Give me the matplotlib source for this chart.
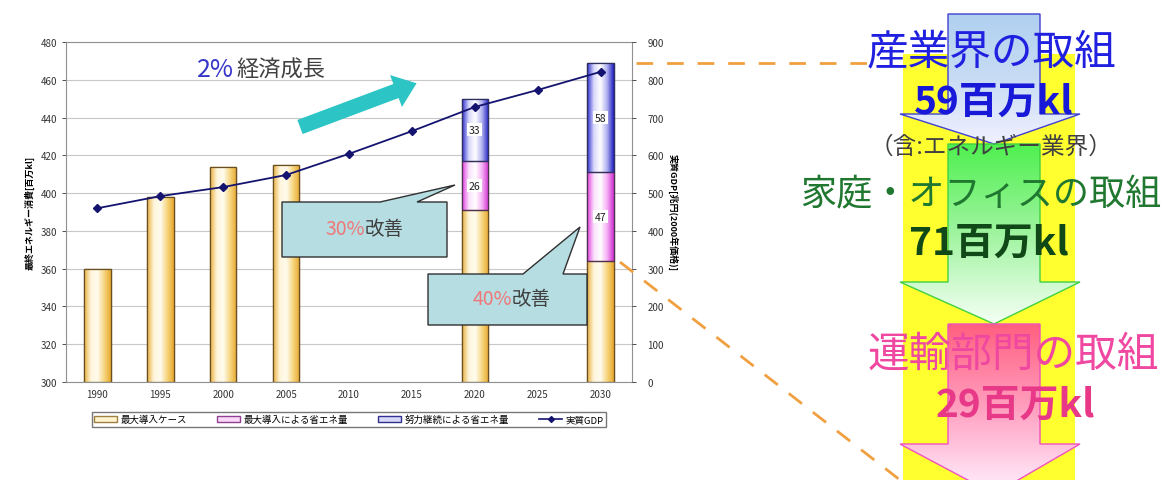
import matplotlib
matplotlib.use('Agg')
import numpy as np
import matplotlib.pyplot as plt
import matplotlib.patches as mpatches
from matplotlib.colors import LinearSegmentedColormap

plt.rcParams['font.family'] = ['Noto Sans CJK JP', 'DejaVu Sans']

# data
years = ['1990', '1995', '2000', '2005', '2010', '2015', '2020', '2025', '2030']
base_case = [360, 398, 414, 415, np.nan, np.nan, 391, np.nan, 364]      # 最大導入ケース
max_saving = [np.nan, np.nan, np.nan, np.nan, np.nan, np.nan, 26, np.nan, 47]  # 最大導入による省エネ量
effort_saving = [np.nan, np.nan, np.nan, np.nan, np.nan, np.nan, 33, np.nan, 58]  # 努力継続による省エネ量
gdp = [460, 492, 516, 548, 604, 664, 728, 773, 821]  # 実質GDP
legend_labels = ['最大導入ケース', '最大導入による省エネ量', '努力継続による省エネ量', '実質GDP']

W, H = 1173, 481
fig = plt.figure(figsize=(W / 100, H / 100), dpi=100)
ax = fig.add_axes([66 / W, 1 - 383 / H, (632 - 66) / W, (383 - 43) / H])

x = np.arange(len(years))
base = np.array(base_case, float)
s1 = np.array(max_saving, float)
s2 = np.array(effort_saving, float)

bw = 0.42
b0 = ax.bar(x, base - 300, bottom=300, width=bw, color='#fbe2a8', edgecolor='#6a5020', linewidth=0.9, zorder=2)
b1 = ax.bar(x, s1, bottom=base, width=bw, color='#f2a0f2', edgecolor='#503050', linewidth=0.9, zorder=2)
b2 = ax.bar(x, s2, bottom=base + s1, width=bw, color='#a0a0f0', edgecolor='#303060', linewidth=0.9, zorder=2)

# horizontal gradient inside the bars
grad = np.linspace(0, 1, 64).reshape(1, -1)
cmaps = [LinearSegmentedColormap.from_list('c0', ['#e8b040', '#fff6dc', '#fffbee', '#f6d680', '#e8a830']),
         LinearSegmentedColormap.from_list('c1', ['#e040e0', '#fbe0fb', '#ffffff', '#f6b0f6', '#d030d0']),
         LinearSegmentedColormap.from_list('c2', ['#3030d0', '#d8d8fb', '#ffffff', '#b0b0f0', '#2020c0'])]
for bars, cm in zip([b0, b1, b2], cmaps):
    for r in bars:
        if np.isnan(r.get_height()) or r.get_height() == 0:
            continue
        x0, y0 = r.get_x(), r.get_y()
        im = ax.imshow(grad, cmap=cm, aspect='auto', extent=(x0, x0 + r.get_width(), y0, y0 + r.get_height()),
                       zorder=2.5, interpolation='bicubic')
        im.set_clip_path(r)
        edge = mpatches.Rectangle((x0, y0), r.get_width(), r.get_height(), fill=False,
                                  edgecolor=r.get_edgecolor(), linewidth=0.9, zorder=3)
        ax.add_patch(edge)

# value labels on the saving segments
for bars, vals in [(b1, s1), (b2, s2)]:
    for r, v in zip(bars, vals):
        if np.isnan(v):
            continue
        ax.text(r.get_x() + r.get_width() / 2, r.get_y() + r.get_height() / 2, '%d' % v,
                ha='center', va='center', fontsize=7.5, color='#202020', zorder=4,
                bbox=dict(boxstyle='square,pad=0.15', fc='white', ec='none'))

ax.set_xlim(-0.5, len(years) - 0.5)
ax.set_ylim(300, 480)
ax.set_yticks(np.arange(300, 481, 20))
ax.set_xticks(x)
ax.set_xticklabels(years)
ax.tick_params(axis='both', labelsize=7, colors='#333333', length=3, width=0.6)
ax.tick_params(axis='x', length=0, pad=5)
ax.grid(axis='y', color='#c8c8c8', linewidth=0.8, zorder=0)
ax.set_axisbelow(True)
for sp in ax.spines.values():
    sp.set_color('#909090')
    sp.set_linewidth(0.8)
ax.set_ylabel('最終エネルギー消費[百万kl]', fontsize=6.5, fontweight='bold', labelpad=4)

ax2 = ax.twinx()
ax2.plot(x, gdp, color='#141470', marker='D', markersize=4, linewidth=1.3, zorder=5)
ax2.set_ylim(0, 900)
ax2.set_yticks(np.arange(0, 901, 100))
ax2.tick_params(axis='y', labelsize=7, colors='#333333', length=3, width=0.6, pad=8)
for sp in ax2.spines.values():
    sp.set_visible(False)
ax2.set_ylabel('実質GDP[兆円(2000年価格)]', fontsize=6.5, fontweight='bold', rotation=270, labelpad=10)

# legend under the plot
handles = [mpatches.Patch(facecolor='#fff3d0', edgecolor='#a08040'),
           mpatches.Patch(facecolor='#fad8fa', edgecolor='#904090'),
           mpatches.Patch(facecolor='#d8d8fa', edgecolor='#303090'),
           plt.Line2D([], [], color='#141470', marker='D', markersize=3, linewidth=1.2)]
ax.legend(handles, legend_labels, loc='upper center', bbox_to_anchor=(0.5, -0.075), ncol=4,
          fontsize=6.8, frameon=True, fancybox=False, edgecolor='#555555', handlelength=2.4,
          handleheight=0.7, columnspacing=3.2, borderpad=0.25, handletextpad=0.4)

# overlay in pixel coordinates for annotations and the right-hand graphic
ov = fig.add_axes([0, 0, 1, 1])
ov.set_xlim(0, W)
ov.set_ylim(H, 0)
ov.axis('off')
ov.patch.set_alpha(0)

# 2% economic growth
ov.text(234, 70, '2%', color='#3535c8', fontsize=18, va='center', ha='right')
ov.text(236, 70, '経済成長', color='#404040', fontsize=16, va='center', ha='left')
ov.add_patch(mpatches.FancyArrow(300, 128, 96, -36, width=15, head_width=34, head_length=22,
                                 length_includes_head=False, color='#2cc4c4', linewidth=0))

# callouts
def callout(box, p0, p1, tip, pct, cx, cy):
    x0, y0, x1, y1 = box
    pts = [(x0, y0), (p0, y0), tip, (p1, y0), (x1, y0), (x1, y1), (x0, y1)]
    ov.add_patch(mpatches.Polygon(pts, closed=True, facecolor='#b5dde2', edgecolor='#303030', linewidth=1.0, zorder=6))
    ov.text(cx, cy, pct, color='#f07878', fontsize=14, ha='right', va='center', zorder=7)
    ov.text(cx, cy, '改善', color='#404040', fontsize=14, ha='left', va='center', zorder=7)

callout((282, 203, 447, 258), 380, 417, (455, 186), '30%', 365, 230)
callout((428, 275, 587, 326), 523, 563, (580, 228), '40%', 512, 300)

# dashed connectors
ov.plot([636, 872], [64, 64], color='#f0a040', linewidth=2, dashes=(6, 5), zorder=1)
ov.plot([620, 900], [263, 481], color='#f0a040', linewidth=2, dashes=(6, 5), zorder=1)

# yellow band with arrows
band = mpatches.Rectangle((903, 55), 172, 430, facecolor='#ffff30', edgecolor='none', zorder=1)
ov.add_patch(band)
vgrad = np.linspace(0, 1, 64).reshape(-1, 1)
arrows = [(15, 115, 145, ['#b0d0f0', '#c8dcf4', '#f0f0ff'], '#4040d0'),
          (145, 283, 325, ['#50f050', '#a0f4a0', '#f4fff4'], '#40d040'),
          (325, 445, 495, ['#ff6080', '#ffa0c0', '#fff0ff'], '#f050c0')]
for top, neck, tip, cols, ec in arrows:
    pts = [(948, top), (1040, top), (1040, neck), (1080, neck), (994, tip), (900, neck), (948, neck)]
    poly = mpatches.Polygon(pts, closed=True, facecolor='none', edgecolor=ec, linewidth=1.0, zorder=3)
    ov.add_patch(poly)
    cm = LinearSegmentedColormap.from_list('a', cols)
    im = ov.imshow(vgrad, cmap=cm, aspect='auto', extent=(900, 1080, tip, top), zorder=2)
    im.set_clip_path(poly)
ov.set_xlim(0, W)
ov.set_ylim(H, 0)

ov.text(991, 53, '産業界の取組', color='#2020e0', fontsize=30, ha='center', va='center', zorder=5)
ov.text(994, 102, '59百万kl', color='#1818d8', fontsize=28, fontweight='bold', ha='center', va='center', zorder=5)
ov.text(991, 147, '（含:エネルギー業界）', color='#404040', fontsize=17, ha='center', va='center', zorder=5)
ov.text(981, 195, '家庭・オフィスの取組', color='#207830', fontsize=26, ha='center', va='center', zorder=5)
ov.text(989, 243, '71百万kl', color='#104818', fontsize=28, fontweight='bold', ha='center', va='center', zorder=5)
ov.text(1013, 355, '運輸部門の取組', color='#f048a0', fontsize=30, ha='center', va='center', zorder=5)
ov.text(1015, 405, '29百万kl', color='#e83888', fontsize=28, fontweight='bold', ha='center', va='center', zorder=5)

fig.savefig('out.png', dpi=100)
